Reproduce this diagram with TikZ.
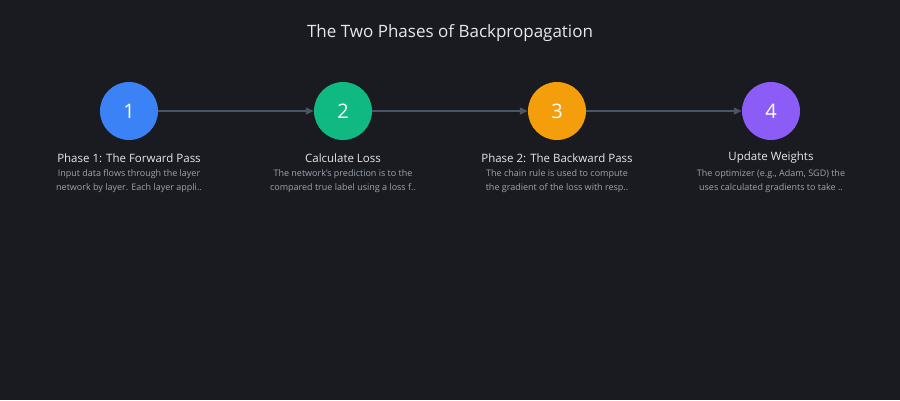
\documentclass[tikz,border=0pt]{standalone}
\usepackage{fontspec}
\setmainfont{Open Sans}
\usetikzlibrary{arrows.meta}
\definecolor{bg}{HTML}{1A1B20}
\definecolor{cA}{HTML}{3B82F6}
\definecolor{cB}{HTML}{10B981}
\definecolor{cC}{HTML}{F59E0B}
\definecolor{cD}{HTML}{8B5CF6}
\definecolor{ln}{HTML}{4B5563}
\definecolor{tt}{HTML}{E5E7EB}
\definecolor{ds}{HTML}{9CA3AF}
\tikzset{
 stepcirc/.style={circle,minimum size=58pt,inner sep=0pt,text=white,font=\fontsize{20}{24}\selectfont},
 lab/.style={text=tt,font=\fontsize{11.5}{14}\selectfont},
 desc/.style={text=ds,font=\fontsize{9}{14}\selectfont,align=center},
 conn/.style={draw=ln,line width=1.3pt,-{Triangle[length=8pt,width=7pt]}}
}
\begin{document}
\begin{tikzpicture}[x=1pt,y=-1pt]
\fill[bg] (0,0) rectangle (900,400);
\useasboundingbox (0,0) rectangle (900,400);
\node[text=tt,font=\fontsize{17}{20}\selectfont] (title) at (450,33) {The Two Phases of Backpropagation};
\node[stepcirc,fill=cA] (n1) at (129,111) {1};
\node[stepcirc,fill=cB] (n2) at (343,111) {2};
\node[stepcirc,fill=cC] (n3) at (557,111) {3};
\node[stepcirc,fill=cD] (n4) at (771,111) {4};
\draw[conn] (n1) -- (n2);
\draw[conn] (n2) -- (n3);
\draw[conn] (n3) -- (n4);
\node[lab] (l1) at (129,158) {Phase 1: The Forward Pass};
\node[lab] (l2) at (343,158) {Calculate Loss};
\node[lab] (l3) at (557,158) {Phase 2: The Backward Pass};
\node[lab] (l4) at (771,158) {Update Weights};
\node[desc] (d1) at (129,181) {Input data flows through the layer\\network by layer. Each layer appli..};
\node[desc] (d2) at (343,181) {The network's prediction is to the\\compared true label using a loss f..};
\node[desc] (d3) at (557,181) {The chain rule is used to compute\\the gradient of the loss with resp..};
\node[desc] (d4) at (771,181) {The optimizer (e.g., Adam, SGD) the\\uses calculated gradients to take ..};
\end{tikzpicture}
\end{document}
